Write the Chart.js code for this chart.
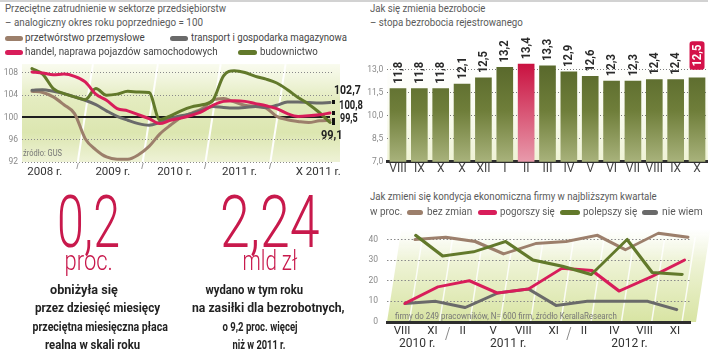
<!DOCTYPE html>
<html lang="pl"><head><meta charset="utf-8">
<script src="https://cdn.jsdelivr.net/npm/chart.js@4.4.1/dist/chart.umd.min.js"></script>
<style>
html,body{margin:0;padding:0;background:#fff}
#root{position:relative;width:720px;height:356px;overflow:hidden;background:#fff;font-family:Roboto,"Liberation Sans",Arial,sans-serif}
canvas{position:absolute;display:block}
.tx{position:absolute;white-space:nowrap;line-height:1}
.sw{position:absolute;height:5px;border-radius:3px}
.rule{position:absolute;top:0;height:2px;background:#d2d2d2}
</style></head>
<body><div id="root">
<div class="rule" style="left:0;width:708px"></div>
<canvas id="c1" width="360" height="125" style="left:0;top:55px"></canvas>
<canvas id="c2" width="360" height="150" style="left:360px;top:30px"></canvas>
<canvas id="c3" width="360" height="141" style="left:360px;top:215px"></canvas>
</div>
<script>
// ---------- DATA ----------
// Chart 1: employment index (every second month, 2008 – X 2011)
const empLabels = ['2008 r.', '2009 r.', '2010 r.', '2011 r.', 'X 2011 r.'];
const empLabelPos = [1.2, 7.6, 13.4, 19.5, 26.9];
const empYearSep = [4.3, 10.4, 16.3, 22.4];
const przetworstwo = [104.7,104.5,103.7,102.3,100.7,96.2,94.2,92.9,92.5,92.5,93.3,94.8,97.0,98.6,100.0,100.8,101.6,103.1,103.4,102.8,102.2,102.0,101.7,100.2,99.6,99.3,99.1,99.4,99.5];
const transport    = [104.9,105.0,104.7,104.3,103.7,103.1,102.3,101.2,100.2,99.5,98.9,98.6,99.1,99.8,100.3,100.7,101.3,102.0,101.8,101.7,101.8,102.0,101.8,102.2,102.8,102.8,102.7,102.6,102.7];
const handel       = [108.2,108.0,107.7,107.8,107.4,106.4,104.2,103.1,101.6,101.2,100.5,99.8,98.9,99.5,99.9,100.4,101.1,102.2,102.9,103.0,102.9,102.5,102.1,101.6,100.7,100.2,100.3,100.5,100.8];
const budownictwo  = [108.8,107.8,105.2,104.3,103.7,103.2,105.2,104.0,104.2,104.7,104.6,104.5,99.6,100.3,101.2,101.9,102.3,103.1,107.5,108.4,108.1,107.4,106.9,106.2,105.0,103.6,102.4,100.9,99.1];
const empTicks = [92, 96, 100, 104, 108];

// Chart 2: unemployment rate
const barMonths = ['VIII','IX','X','X','XII','I','II','III','IV','V','VI','VII','VIII','IX','X'];
const unemployment = [11.8,11.8,11.8,12.1,12.5,13.2,13.4,13.3,12.9,12.6,12.3,12.3,12.4,12.4,12.5];
const barTicks = [7.0, 8.5, 10.0, 11.5, 13.0];
const highlightIndex = 6;
const boxedIndex = 14;

// Chart 3: business outlook survey (%)
const surveyLabels = ['VIII','XI','II','V','VIII','XI','II','IV','VIII','XI'];
const surveyYears = ['2010 r.', '2011 r.', '2012 r.'];
const surveyYearGroups = [[0,1],[2,5],[6,9]];
const bezZmian = [40,41,39,33,38,39,42,35,43,41];
const pogorszy = [9,17,20,14,16,26,25,15,22,30];
const polepszy = [42,32,34,39,30,27,23,40,24,23];
const nieWiem  = [9,10,7,14,16,8,10,10,10,6];
const surveyTicks = [0,10,20,30,40];

// ---------- STYLE ----------
const BROWN = '#9c7f6b', GRAY = '#6a6a6a', RED = '#d81d5a', GREEN = '#62792b';
const FONT = 'Roboto, "Liberation Sans", Arial, sans-serif';
const K = 0.155; // perspective slant of the plot panels
Chart.defaults.font.family = FONT;
const fmt = v => v.toFixed(1).replace('.', ',');

// ---------- TEXT HELPERS ----------
const root = document.getElementById('root');
function txt(s, x, cy, o = {}) {
  const d = document.createElement('div');
  d.className = 'tx'; d.textContent = s;
  const fs = o.fs || 11.5;
  d.style.fontSize = fs + 'px';
  d.style.color = o.c || '#555';
  d.style.fontWeight = o.fw || 400;
  d.style.top = (o.base !== undefined ? o.base - 0.842 * fs : cy - 0.55 * fs) + 'px';
  root.appendChild(d);
  const nat = d.offsetWidth;
  const sc = o.w ? o.w / nat : 1;
  if (o.center) { d.style.left = (x - nat / 2) + 'px'; d.style.transformOrigin = '50% 50%'; }
  else { d.style.left = x + 'px'; d.style.transformOrigin = '0 50%'; }
  d.style.transform = 'scaleX(' + sc + ')';
  return d;
}
function sw(x, cy, w, color) {
  const d = document.createElement('div');
  d.className = 'sw';
  d.style.left = x + 'px'; d.style.top = (cy - 2.5) + 'px'; d.style.width = w + 'px'; d.style.background = color;
  root.appendChild(d);
}

// ---------- CHART 1 ----------
const xy = arr => arr.map((v, i) => ({x: i, y: v}));
const bg1 = {
  id: 'bg1',
  beforeDraw(chart) {
    const {ctx, chartArea: a, scales: {x}} = chart;
    ctx.save();
    const g = ctx.createLinearGradient(0, a.top, 0, a.bottom);
    g.addColorStop(0, 'rgba(244,247,226,0.6)');
    g.addColorStop(0.35, '#e4ecc0');
    g.addColorStop(0.7, '#dce6b0');
    g.addColorStop(1, '#eef2d6');
    ctx.fillStyle = g;
    ctx.fillRect(a.left, a.top, a.right - a.left + 8, a.bottom - a.top);
    empYearSep.forEach(v => {
      const px = x.getPixelForValue(v);
      ctx.strokeStyle = 'rgba(255,255,255,0.95)'; ctx.lineWidth = 2;
      ctx.beginPath(); ctx.moveTo(px, a.bottom); ctx.lineTo(px + K * (a.bottom - a.top), a.top); ctx.stroke();
      ctx.strokeStyle = '#9a9a9a'; ctx.lineWidth = 1;
      ctx.beginPath(); ctx.moveTo(px - 1, a.bottom + 7); ctx.lineTo(px + 0.5, a.bottom + 1); ctx.stroke();
    });
    ctx.restore();
  },
  beforeDatasetsDraw(chart) {
    const {ctx, chartArea: a, scales: {y}} = chart;
    const py = Math.round(y.getPixelForValue(100));
    ctx.save(); ctx.strokeStyle = '#1e1e1e'; ctx.lineWidth = 2;
    ctx.beginPath(); ctx.moveTo(a.left, py); ctx.lineTo(a.right - 2, py); ctx.stroke(); ctx.restore();
  },
  afterDatasetsDraw(chart) {
    const {ctx} = chart;
    ctx.save(); ctx.fillStyle = '#111';
    chart.data.datasets.forEach((ds, i) => {
      const pts = chart.getDatasetMeta(i).data; const p = pts[pts.length - 1];
      ctx.fillRect(Math.round(p.x + 2), Math.round(p.y - 2), 3, 4);
    });
    ctx.restore();
  }
};
new Chart(document.getElementById('c1'), {
  type: 'line',
  data: {datasets: [
    {label: 'handel, naprawa pojazdów samochodowych', data: xy(handel), borderColor: RED, order: 0},
    {label: 'budownictwo', data: xy(budownictwo), borderColor: GREEN, order: 1},
    {label: 'transport i gospodarka magazynowa', data: xy(transport), borderColor: GRAY, order: 2},
    {label: 'przetwórstwo przemysłowe', data: xy(przetworstwo), borderColor: BROWN, order: 3}
  ]},
  options: {
    responsive: false, animation: false, events: [],
    layout: {padding: {left: 0, right: 28, top: 4, bottom: 0}},
    elements: {line: {borderWidth: 3, cubicInterpolationMode: 'monotone', borderCapStyle: 'round', borderJoinStyle: 'round'}, point: {radius: 0}},
    plugins: {legend: {display: false}, tooltip: {enabled: false}},
    scales: {
      x: {type: 'linear', min: -0.94, max: 28.19,
        afterBuildTicks: s => { s.ticks = empLabelPos.map(v => ({value: v})); },
        afterFit: s => { s.height = 18; },
        grid: {display: false, drawTicks: false}, border: {display: false},
        ticks: {autoSkip: false, maxRotation: 0, padding: 3, color: '#333', font: {size: 11.5}, callback: (v, i) => empLabels[i]}},
      y: {min: 92, max: 109.6,
        afterBuildTicks: s => { s.ticks = empTicks.map(v => ({value: v})); },
        afterFit: s => { s.width = 22; },
        grid: {color: c => (c.tick && c.tick.value === 100) ? 'rgba(0,0,0,0)' : '#8a8a8a', lineWidth: 1, drawTicks: false},
        border: {display: false, dash: [1, 2]},
        ticks: {padding: 4, color: '#8a8a8a', font: {size: 8.5}}}
    }
  },
  plugins: [bg1]
});

// ---------- CHART 2 ----------
function barFill(ctx) {
  const a = ctx.chart.chartArea;
  const hot = ctx.dataIndex === highlightIndex;
  if (!a) return hot ? RED : GREEN;
  const g = ctx.chart.ctx.createLinearGradient(0, a.top + 20, 0, a.bottom);
  if (hot) { g.addColorStop(0, '#c80c3c'); g.addColorStop(1, '#e89aab'); }
  else { g.addColorStop(0, '#56662a'); g.addColorStop(0.5, '#6f7e3a'); g.addColorStop(1, '#a8b27b'); }
  return g;
}
function rr(ctx, x, y, w, h, r) {
  ctx.beginPath();
  ctx.moveTo(x + r, y); ctx.lineTo(x + w - r, y); ctx.quadraticCurveTo(x + w, y, x + w, y + r);
  ctx.lineTo(x + w, y + h - r); ctx.quadraticCurveTo(x + w, y + h, x + w - r, y + h);
  ctx.lineTo(x + r, y + h); ctx.quadraticCurveTo(x, y + h, x, y + h - r);
  ctx.lineTo(x, y + r); ctx.quadraticCurveTo(x, y, x + r, y); ctx.closePath();
}
const bg2 = {
  id: 'bg2',
  beforeDraw(chart) {
    const {ctx, chartArea: a} = chart;
    ctx.save();
    const g = ctx.createLinearGradient(0, a.top, 0, a.bottom);
    g.addColorStop(0, 'rgba(255,255,255,0)'); g.addColorStop(1, '#eef2d3');
    ctx.fillStyle = g; ctx.fillRect(a.left, a.top + 20, a.right - a.left, a.bottom - a.top - 20);
    ctx.restore();
  },
  afterDatasetsDraw(chart) {
    const {ctx} = chart;
    chart.getDatasetMeta(0).data.forEach((bar, i) => {
      const s = fmt(unemployment[i]);
      const boxed = i === boxedIndex;
      ctx.save();
      ctx.font = 'bold 12.5px ' + FONT;
      ctx.translate(bar.x, bar.y - (boxed ? 11 : 4.5));
      ctx.rotate(-Math.PI / 2);
      ctx.scale(0.9, 1);
      const w = ctx.measureText(s).width;
      if (boxed) { ctx.fillStyle = '#d4124a'; rr(ctx, -3.5, -7.5, w + 7, 15, 3); ctx.fill(); ctx.fillStyle = '#fff'; }
      else ctx.fillStyle = '#2a2a2a';
      ctx.textAlign = 'left'; ctx.textBaseline = 'middle';
      ctx.fillText(s, 0, 0.5);
      ctx.restore();
    });
  }
};
new Chart(document.getElementById('c2'), {
  type: 'bar',
  data: {labels: barMonths, datasets: [{label: 'stopa bezrobocia', data: unemployment, backgroundColor: barFill, borderWidth: 0}]},
  options: {
    responsive: false, animation: false, events: [],
    layout: {padding: {left: 0, right: 12.3, top: 10, bottom: 0}},
    datasets: {bar: {barPercentage: 0.78, categoryPercentage: 1}},
    plugins: {legend: {display: false}, tooltip: {enabled: false}},
    scales: {
      x: {afterFit: s => { s.height = 18.3; }, grid: {display: false, drawTicks: false},
        border: {display: true, color: '#2e2e2e', width: 3},
        ticks: {padding: 0, color: '#444', font: {size: 12}, autoSkip: false, maxRotation: 0}},
      y: {min: 7, max: 14.96,
        afterBuildTicks: s => { s.ticks = barTicks.map(v => ({value: v})); },
        afterFit: s => { s.width = 27.3; },
        grid: {color: '#7a7a7a', drawTicks: false},
        border: {display: false, dash: [1, 2]},
        ticks: {padding: 4, color: '#8a8a8a', font: {size: 8.5}, callback: v => fmt(v)}}
    }
  },
  plugins: [bg2]
});

// ---------- CHART 3 ----------
const bg3 = {
  id: 'bg3',
  beforeDraw(chart) {
    const {ctx, chartArea: a, scales: {x, y}} = chart;
    const b = y.getPixelForValue(0);
    ctx.save();
    ctx.transform(1, 0, -K, 1, K * b, 0);
    const g = ctx.createLinearGradient(0, a.top, 0, a.bottom);
    g.addColorStop(0, 'rgba(240,245,222,0)'); g.addColorStop(0.35, '#eef3d6'); g.addColorStop(1, '#d8e4a3');
    ctx.fillStyle = g;
    ctx.fillRect(a.left, a.top, a.right - a.left + 6, a.bottom - a.top);
    const n = surveyLabels.length, w = (a.right - a.left) / n;
    ctx.strokeStyle = 'rgba(255,255,255,0.85)'; ctx.lineWidth = 1.5;
    for (let i = 1; i <= n; i++) {
      const px = a.left + i * w - 8;
      ctx.beginPath(); ctx.moveTo(px, a.bottom); ctx.lineTo(px, a.top + 8); ctx.stroke();
    }
    ctx.restore();
  },
  beforeDatasetsDraw(chart) {
    const b = chart.scales.y.getPixelForValue(0);
    chart.ctx.save();
    chart.ctx.transform(1, 0, -K, 1, K * b, 0);
  },
  afterDatasetsDraw(chart) { chart.ctx.restore(); },
  afterDraw(chart) {
    const {ctx, chartArea: a, scales: {x}} = chart;
    ctx.save();
    ctx.font = '12px ' + FONT; ctx.fillStyle = '#333'; ctx.textAlign = 'center'; ctx.textBaseline = 'middle';
    surveyYearGroups.forEach((gr, j) => {
      const cx = (x.getPixelForTick(gr[0]) + x.getPixelForTick(gr[1])) / 2;
      ctx.fillText(surveyYears[j], cx, a.bottom + 22);
    });
    const w = (a.right - a.left) / surveyLabels.length;
    ctx.strokeStyle = '#8a8a8a'; ctx.lineWidth = 1;
    surveyYearGroups.slice(1).forEach(gr => {
      const bx = a.left + gr[0] * w;
      ctx.beginPath(); ctx.moveTo(bx - 2, a.bottom + 18); ctx.lineTo(bx + 2, a.bottom + 5); ctx.stroke();
    });
    ctx.restore();
  }
};
new Chart(document.getElementById('c3'), {
  type: 'line',
  data: {labels: surveyLabels, datasets: [
    {label: 'polepszy się', data: polepszy, borderColor: GREEN, order: 0},
    {label: 'pogorszy się', data: pogorszy, borderColor: RED, order: 1},
    {label: 'bez zmian', data: bezZmian, borderColor: BROWN, order: 2},
    {label: 'nie wiem', data: nieWiem, borderColor: GRAY, order: 3}
  ]},
  options: {
    responsive: false, animation: false, events: [],
    layout: {padding: {left: 0, right: 30, top: 5, bottom: 0}},
    elements: {line: {borderWidth: 3, tension: 0, borderJoinStyle: 'round', borderCapStyle: 'round'}, point: {radius: 0}},
    datasets: {line: {clip: false}},
    plugins: {legend: {display: false}, tooltip: {enabled: false}},
    scales: {
      x: {offset: true, afterFit: s => { s.height = 34; }, grid: {display: false, drawTicks: false},
        border: {display: true, color: '#2e2e2e', width: 3},
        ticks: {padding: 2, color: '#333', font: {size: 11.5}, autoSkip: false, maxRotation: 0}},
      y: {min: 0, max: 45,
        afterBuildTicks: s => { s.ticks = surveyTicks.map(v => ({value: v})); },
        afterFit: s => { s.width = 27; },
        grid: {color: '#8a8a8a', drawTicks: false},
        border: {display: false, dash: [1.5, 2]},
        ticks: {padding: 9, color: '#8a8a8a', font: {size: 8.5}}}
    }
  },
  plugins: [bg3]
});

// ---------- TEXTS ----------
const TC = '#5a5a5a';
txt('Przeciętne zatrudnienie w sektorze przedsiębiorstw', 5, 9, {w: 221, c: TC});
txt('– analogiczny okres roku poprzedniego = 100', 5, 23, {w: 198, c: TC});
sw(5, 38, 18, BROWN); txt('przetwórstwo przemysłowe', 25, 38, {w: 120, c: '#444'});
sw(170, 38, 18, GRAY); txt('transport i gospodarka magazynowa', 191, 38, {w: 156, c: '#444'});
sw(5, 52, 18, RED); txt('handel, naprawa pojazdów samochodowych', 25, 52, {w: 193, c: '#444'});
sw(238, 52, 19, GREEN); txt('budownictwo', 260, 52, {w: 58, c: '#444'});
txt('źródło: GUS', 23, 154, {fs: 9, w: 39, c: '#777'});
txt('102,7', 334, 91, {fs: 12.5, fw: 700, w: 27, c: '#222'});
txt('100,8', 339, 106, {fs: 12.5, fw: 700, w: 24, c: '#222'});
txt('99,5', 340, 118.5, {fs: 12.5, fw: 700, w: 18, c: '#222'});
txt('99,1', 321, 135.5, {fs: 12.5, fw: 700, w: 22, c: '#222'});

txt('Jak się zmienia bezrobocie', 370, 9, {w: 115, c: TC});
txt('– stopa bezrobocia rejestrowanego', 370, 23, {w: 153, c: TC});

txt('Jak zmieni się kondycja ekonomiczna firmy w najbliższym kwartale', 370, 197, {w: 287, c: TC});
txt('w proc.', 370, 212, {w: 32, c: TC});
sw(407, 212, 16, BROWN); txt('bez zmian', 427, 212, {w: 45, c: TC});
sw(478, 212, 19, RED); txt('pogorszy się', 500, 212, {w: 55, c: TC});
sw(560, 212, 20, GREEN); txt('polepszy się', 583, 212, {w: 54, c: TC});
sw(642, 212, 16, GRAY); txt('nie wiem', 662, 212, {w: 41, c: TC});
txt('firmy do 249 pracowników, N= 600 firm, źródło KerallaResearch', 395, 316.5, {fs: 9, w: 222, c: '#777'});

const BIG = '#c8194c';
txt('0,2', 88.5, 0, {fs: 73, fw: 300, base: 247, w: 63, c: BIG, center: true});
txt('proc.', 88.5, 0, {fs: 27, fw: 300, base: 271, w: 48, c: BIG, center: true});
txt('2,24', 270, 0, {fs: 73, fw: 300, base: 247, w: 100, c: BIG, center: true});
txt('mld zł', 270, 0, {fs: 27, fw: 300, base: 271, w: 55, c: BIG, center: true});
const B = {fs: 13, fw: 700, c: '#222', center: true};
txt('obniżyła się', 84, 290, Object.assign({w: 68}, B));
txt('przez dziesięć miesięcy', 97.5, 308.5, Object.assign({w: 125}, B));
txt('przeciętna miesięczna płaca', 99.5, 327, Object.assign({w: 135}, B));
txt('realna w skali roku', 92.5, 345, Object.assign({w: 95}, B));
txt('wydano w tym roku', 253.5, 290, Object.assign({w: 97}, B));
txt('na zasiłki dla bezrobotnych,', 268.5, 308.5, Object.assign({w: 153}, B));
txt('o 9,2 proc. więcej', 259.5, 327, Object.assign({w: 75}, B));
txt('niż w 2011 r.', 258.5, 345, Object.assign({w: 53}, B));
</script>
</body></html>
